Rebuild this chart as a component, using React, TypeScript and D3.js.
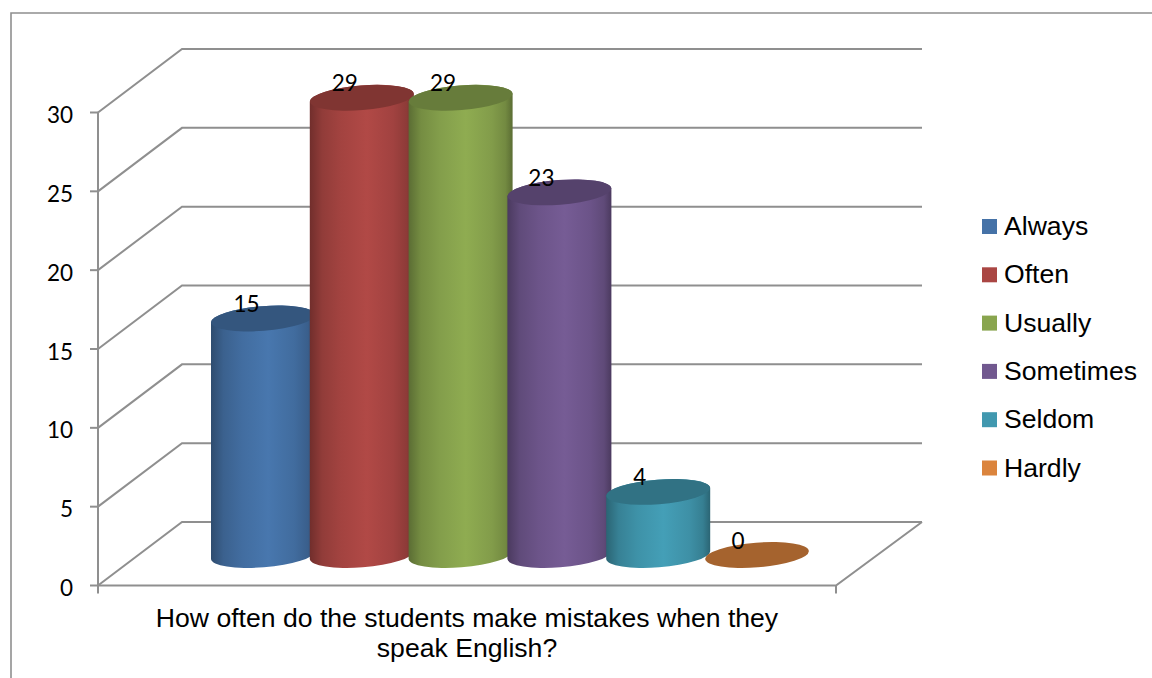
import React from "react";
import * as d3 from "d3";

const categories = ["Always", "Often", "Usually", "Sometimes", "Seldom", "Hardly"];
const values = [15, 29, 29, 23, 4, 0];
const colors = ["#4572A7", "#AA4643", "#89A54E", "#71588F", "#4198AF", "#DB843D"];
const axisTicks = [0, 5, 10, 15, 20, 25, 30];
const titleLines = ["How often do the students make mistakes when they", "speak English?"];

const W = 1152;
const H = 678;
const GRID = "#8f8f8f";

// Front plane of the 3D box, and the offset to its back wall
const frontLeft = 98;
const frontRight = 836;
const depthX = 84;
const depthY = -63.5;
const y = d3.scaleLinear().domain([0, 30]).range([585.5, 112.5]);

// Cylinders stand in the middle of the box's depth
const x = d3.scaleBand<string>().domain(categories).range([213.6, 806.4]).padding(0);
const baseY = 555;
const barLift = y(0) - baseY;
const rx = 52;
const ry = 12.3;
const tilt = -4.5;
const tiltDy = rx * Math.sin((tilt * Math.PI) / 180);
const labelShift = d3.scaleLinear().domain([0, categories.length - 1]).range([-16.5, -19]);

const bodyPath = (cx: number, top: number, bottom: number) =>
  `M${cx - rx},${top - tiltDy}` +
  `L${cx - rx},${bottom - tiltDy}` +
  `A${rx},${ry} ${tilt} 0 0 ${cx + rx},${bottom + tiltDy}` +
  `L${cx + rx},${top + tiltDy}` +
  `A${rx},${ry} ${tilt} 0 0 ${cx - rx},${top - tiltDy}Z`;

const shade = (c: string, k: number) => d3.rgb(c).darker(k).formatHex();

export default function App() {
  const line = d3.line();
  return (
    <svg
      width={W}
      height={H}
      viewBox={`0 0 ${W} ${H}`}
      style={{ position: "absolute", left: 0, top: 0, background: "#fff" }}
    >
      <defs>
        {categories.map((c, i) => (
          <linearGradient key={c} id={`cyl-${i}`} x1="0" x2="1" y1="0" y2="0">
            <stop offset="0" stopColor={shade(colors[i], 1.15)} />
            <stop offset="0.12" stopColor={shade(colors[i], 0.45)} />
            <stop offset="0.3" stopColor={shade(colors[i], 0.12)} />
            <stop offset="0.55" stopColor={d3.rgb(colors[i]).brighter(0.12).formatHex()} />
            <stop offset="0.8" stopColor={shade(colors[i], 0.15)} />
            <stop offset="0.93" stopColor={shade(colors[i], 0.5)} />
            <stop offset="1" stopColor={shade(colors[i], 1.15)} />
          </linearGradient>
        ))}
      </defs>

      {/* chart frame, running off the page on the right and bottom */}
      <path d={`M11,${H}V13H${W}`} fill="none" stroke={GRID} strokeWidth={1.6} />

      {/* gridlines: side wall slant plus back wall */}
      {axisTicks.map((t) => (
        <path
          key={t}
          d={
            line([
              [frontLeft, y(t)],
              [frontLeft + depthX, y(t) + depthY],
              [frontRight + depthX + 2, y(t) + depthY],
            ]) as string
          }
          fill="none"
          stroke={GRID}
          strokeWidth={2}
        />
      ))}

      {/* floor and axes */}
      <path
        d={
          line([
            [frontLeft, y(0)],
            [frontRight, y(0)],
            [frontRight + depthX + 2, y(0) + depthY],
          ]) as string
        }
        fill="none"
        stroke={GRID}
        strokeWidth={2}
      />
      <path d={`M${frontLeft},${y(30)}V${y(0) + 8}`} fill="none" stroke={GRID} strokeWidth={2} />
      <path d={`M${frontRight},${y(0)}V${y(0) + 8}`} fill="none" stroke={GRID} strokeWidth={2} />
      {axisTicks.map((t) => (
        <path key={t} d={`M${frontLeft - 8},${y(t)}H${frontLeft}`} stroke={GRID} strokeWidth={2} />
      ))}
      {axisTicks.map((t) => (
        <text
          key={t}
          x={73}
          y={y(t) + 10.5}
          textAnchor="end"
          fontFamily="Lato, sans-serif"
          fontSize={22.5}
          fill="#000"
        >
          {t}
        </text>
      ))}

      {/* cylinders, left to right so each one overlaps its neighbour */}
      {categories.map((c, i) => {
        const cx = (x(c) as number) + x.bandwidth() / 2;
        const top = y(values[i]) - barLift;
        return (
          <g key={c}>
            {values[i] > 0 && <path d={bodyPath(cx, top, baseY)} fill={`url(#cyl-${i})`} />}
            <ellipse
              cx={cx}
              cy={top}
              rx={rx}
              ry={ry}
              transform={`rotate(${tilt} ${cx} ${top})`}
              fill={shade(colors[i], 0.8)}
            />
          </g>
        );
      })}

      {/* data labels */}
      {categories.map((c, i) => {
        const cx = (x(c) as number) + x.bandwidth() / 2;
        return (
          <text
            key={c}
            x={cx + labelShift(i)}
            y={y(values[i]) - barLift - 6.5}
            textAnchor="middle"
            fontFamily="Lato, sans-serif"
            fontSize={22.5}
            fill="#000"
          >
            {values[i]}
          </text>
        );
      })}

      {/* category title under the axis */}
      {titleLines.map((t, i) => (
        <text
          key={t}
          x={467}
          y={627 + i * 30}
          textAnchor="middle"
          fontFamily="'Liberation Sans', Arial, sans-serif"
          fontSize={26.6}
          fill="#000"
        >
          {t}
        </text>
      ))}

      {/* legend */}
      {categories.map((c, i) => {
        const ly = 226.5 + i * 48.3;
        return (
          <g key={c}>
            <rect x={982} y={ly - 7.5} width={15} height={15} fill={colors[i]} />
            <text
              x={1004}
              y={ly + 8.5}
              fontFamily="'Liberation Sans', Arial, sans-serif"
              fontSize={26.6}
              fill="#000"
            >
              {c}
            </text>
          </g>
        );
      })}
    </svg>
  );
}
